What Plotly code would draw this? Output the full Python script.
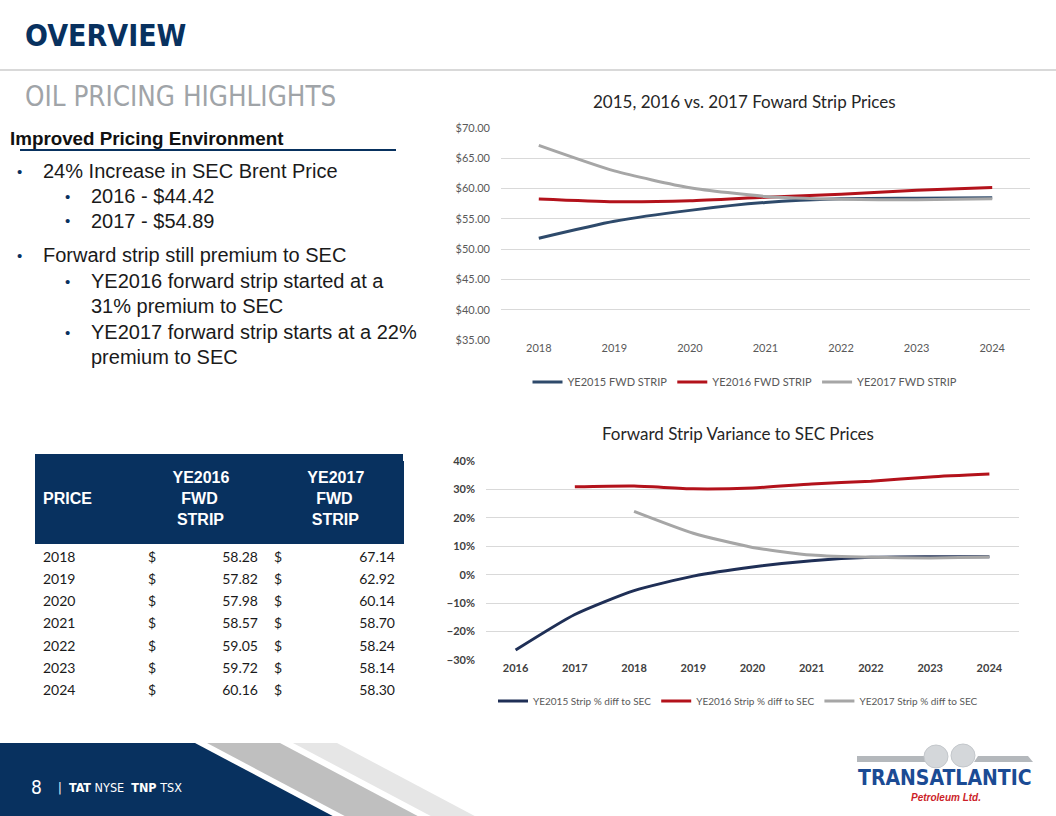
import plotly.graph_objects as go

W, H = 1056, 816

# ---------------- data ----------------
years_fwd = [2018, 2019, 2020, 2021, 2022, 2023, 2024]
ye2015_fwd = [51.8, 54.6, 56.4, 57.7, 58.3, 58.4, 58.5]
ye2016_fwd = [58.28, 57.82, 57.98, 58.57, 59.05, 59.72, 60.16]
ye2017_fwd = [67.14, 62.92, 60.14, 58.70, 58.24, 58.14, 58.30]

years_var = [2016, 2017, 2018, 2019, 2020, 2021, 2022, 2023, 2024]
ye2015_var = [-26.5, -14.0, -5.6, -0.5, 2.7, 4.9, 6.1, 6.3, 6.3]
ye2016_var = [None, 30.9, 31.2, 30.2, 30.5, 31.9, 32.9, 34.4, 35.4]
ye2017_var = [None, None, 22.3, 14.6, 9.6, 6.9, 6.1, 5.9, 6.2]

table_years = ["2018", "2019", "2020", "2021", "2022", "2023", "2024"]
table_ye2016 = ["58.28", "57.82", "57.98", "58.57", "59.05", "59.72", "60.16"]
table_ye2017 = ["67.14", "62.92", "60.14", "58.70", "58.24", "58.14", "58.30"]

NAVY = "#08315f"
C15_TOP = "#2e4a6b"
C15_BOT = "#1f2f56"
C16 = "#b3121b"
C17 = "#a6a6a6"
CHART_FONT = "Lato, Carlito, Calibri, sans-serif"
NARROW = "Liberation Sans Narrow, Arial Narrow, DejaVu Sans Condensed, sans-serif"
ARIAL = "Liberation Sans, Arial, sans-serif"


def px(x):
    return x / W


def py(y):
    return 1 - y / H


fig = go.Figure()

# ---------------- top chart ----------------
for name, vals, col in [
    ("YE2015 FWD STRIP", ye2015_fwd, C15_TOP),
    ("YE2016 FWD STRIP", ye2016_fwd, C16),
    ("YE2017 FWD STRIP", ye2017_fwd, C17),
]:
    fig.add_trace(go.Scatter(x=years_fwd, y=vals, name=name, mode="lines",
                             line=dict(color=col, width=3, shape="spline", smoothing=0.6),
                             xaxis="x", yaxis="y", legend="legend"))

# ---------------- bottom chart ----------------
for name, vals, col in [
    ("YE2015 Strip % diff to SEC", ye2015_var, C15_BOT),
    ("YE2016 Strip % diff to SEC", ye2016_var, C16),
    ("YE2017 Strip % diff to SEC", ye2017_var, C17),
]:
    fig.add_trace(go.Scatter(x=years_var, y=vals, name=name, mode="lines",
                             line=dict(color=col, width=3, shape="spline", smoothing=0.6),
                             xaxis="x2", yaxis="y2", legend="legend2"))

# ---------------- table ----------------
NB = "&nbsp;"
fig.add_trace(go.Table(
    domain=dict(x=[px(35), px(403)], y=[py(705), py(461)]),
    columnwidth=[105, 20, 106, 20, 117],
    header=dict(
        values=[f"{NB}<br><b>PRICE</b>", "",
                f"{NB}<b>YE2016</b><br>{NB*3}<b>FWD</b><br>{NB*2}<b>STRIP</b>", "",
                f"{NB*3}<b>YE2017</b><br>{NB*5}<b>FWD</b><br>{NB*4}<b>STRIP</b>"],
        fill_color=NAVY, line_color=NAVY, height=82,
        align=["left", "left", "left", "left", "left"],
        font=dict(family=ARIAL, size=16, color="white"),
    ),
    cells=dict(
        values=[table_years, ["$"] * 7, table_ye2016, ["$"] * 7, table_ye2017],
        fill_color="white", line_color="white", height=22.3,
        align=["left", "left", "right", "left", "right"],
        font=dict(family=CHART_FONT, size=14, color="#1a1a1a"),
    ),
))

axis_common = dict(showline=False, zeroline=False, ticks="", fixedrange=True, automargin=False)

fig.update_layout(
    width=W, height=H,
    margin=dict(l=0, r=0, t=0, b=0, autoexpand=False),
    paper_bgcolor="white", plot_bgcolor="white",
    showlegend=True,
    xaxis=dict(domain=[px(501), px(1030)], range=[2017.5, 2024.5], tickvals=years_fwd,
               showgrid=False, anchor="y",
               tickfont=dict(family=CHART_FONT, size=11, color="#595959"), **axis_common),
    yaxis=dict(domain=[py(340), py(128)], range=[35, 70], dtick=5, tick0=35,
               tickprefix="$", tickformat=".2f", showgrid=True, gridcolor="#d9d9d9",
               anchor="x", ticklabelstandoff=10,
               tickfont=dict(family=CHART_FONT, size=11, color="#595959"), **axis_common),
    xaxis2=dict(domain=[px(486), px(1019)], range=[2015.5, 2024.5], tickvals=years_var,
                showgrid=False, anchor="y2",
                tickfont=dict(family=CHART_FONT, size=11, color="#404040", weight="bold"),
                **axis_common),
    yaxis2=dict(domain=[py(660), py(461)], range=[-30, 40], dtick=10, tick0=-30,
                ticksuffix="%", showgrid=True, gridcolor="#d9d9d9", anchor="x2",
                ticklabelstandoff=10,
                tickfont=dict(family=CHART_FONT, size=11, color="#404040", weight="bold"),
                **axis_common),
    legend=dict(orientation="h", x=px(745), y=py(382), xanchor="center", yanchor="middle",
                font=dict(family=CHART_FONT, size=11, color="#595959"),
                bgcolor="rgba(0,0,0,0)", itemwidth=30, tracegroupgap=0),
    legend2=dict(orientation="h", x=px(738), y=py(701), xanchor="center", yanchor="middle",
                 font=dict(family=CHART_FONT, size=10, color="#595959"),
                 bgcolor="rgba(0,0,0,0)", itemwidth=30, tracegroupgap=0),
)

# ---------------- shapes ----------------
shapes = []
shapes.append(dict(type="line", xref="paper", yref="paper", x0=0, x1=1, y0=py(70), y1=py(70),
                   line=dict(color="#d9d9d9", width=2)))
shapes.append(dict(type="line", xref="paper", yref="paper", x0=px(20), x1=px(396),
                   y0=py(150), y1=py(150), line=dict(color=NAVY, width=2)))
# top strip of the table header band
shapes.append(dict(type="rect", xref="paper", yref="paper", x0=px(35), x1=px(403),
                   y0=py(462), y1=py(454), fillcolor=NAVY, line=dict(width=0)))


def poly(points, color):
    d = "M " + " L ".join(f"{px(a):.5f},{py(b):.5f}" for a, b in points) + " Z"
    return dict(type="path", xref="paper", yref="paper", path=d, fillcolor=color,
                line=dict(width=0), layer="above")


# footer band and stripes (extended slightly past the bottom edge)
shapes.append(poly([(0, 743), (195, 743), (344, 822), (0, 822)], NAVY))
shapes.append(poly([(207, 743), (280, 743), (429, 822), (356, 822)], "#bfbfbf"))
shapes.append(poly([(293, 743), (337, 743), (486, 822), (442, 822)], "#e6e6e6"))

# logo: grey bars and globes
shapes.append(poly([(857, 756), (928, 756), (932, 762), (857, 762)], "#b4b8bc"))
shapes.append(poly([(978, 756), (1028, 756), (1033, 762), (974, 762)], "#b4b8bc"))
shapes.append(dict(type="circle", xref="paper", yref="paper", x0=px(924), x1=px(948),
                   y0=py(745), y1=py(768), fillcolor="#d4d7da", line=dict(color="#c3c7cb", width=1)))
shapes.append(dict(type="circle", xref="paper", yref="paper", x0=px(951), x1=px(975),
                   y0=py(744), y1=py(767), fillcolor="#d4d7da", line=dict(color="#c3c7cb", width=1)))
fig.update_layout(shapes=shapes)

# ---------------- texts ----------------
ann = []


def text(x, y, s, size, color="#1a1a1a", family=ARIAL, xanchor="left", **kw):
    ann.append(dict(x=px(x), y=py(y), xref="paper", yref="paper", text=s, showarrow=False,
                    xanchor=xanchor, yanchor="middle", font=dict(size=size, color=color,
                                                                 family=family), **kw))


text(23, 36, "<b>OVERVIEW</b>", 30, NAVY, NARROW)
text(23, 96, "OIL PRICING HIGHLIGHTS", 27.5, "#a0a4a8", NARROW)
text(8, 138, "<b>Improved Pricing Environment</b>", 18.8, "#111111", ARIAL)

bul = "#1a1a1a"
BS = 20
text(15, 171, "•", 15, NAVY)
text(41, 171, "24% Increase in SEC Brent Price", BS, bul)
text(63, 196, "•", 15, NAVY)
text(89, 196, "2016 - $44.42", BS, bul)
text(63, 221, "•", 15, NAVY)
text(89, 221, "2017 - $54.89", BS, bul)
text(15, 255, "•", 15, NAVY)
text(41, 255, "Forward strip still premium to SEC", BS, bul)
text(63, 281, "•", 15, NAVY)
text(89, 281, "YE2016 forward strip started at a", BS, bul)
text(89, 306, "31% premium to SEC", BS, bul)
text(63, 332, "•", 15, NAVY)
text(89, 332, "YE2017 forward strip starts at a 22%", BS, bul)
text(89, 357, "premium to SEC", BS, bul)

# chart titles
text(744, 101, "2015, 2016 vs. 2017 Foward Strip Prices", 17, "#262626", CHART_FONT, "center")
text(738, 433, "Forward Strip Variance to SEC Prices", 17, "#262626", CHART_FONT, "center")

# footer
text(29, 787, "8", 19, "white", NARROW)
text(56, 787, "|  <b>TAT</b> NYSE  <b>TNP</b> TSX", 12.5, "white", NARROW)

# logo text
text(945, 778, "<b>TRANSATLANTIC</b>", 21, "#1b4b94", NARROW, "center")
text(946, 797, "<b><i>Petroleum Ltd.</i></b>", 10, "#cc1f2a", ARIAL, "center")

fig.update_layout(annotations=ann)

fig.write_html("out.html")
